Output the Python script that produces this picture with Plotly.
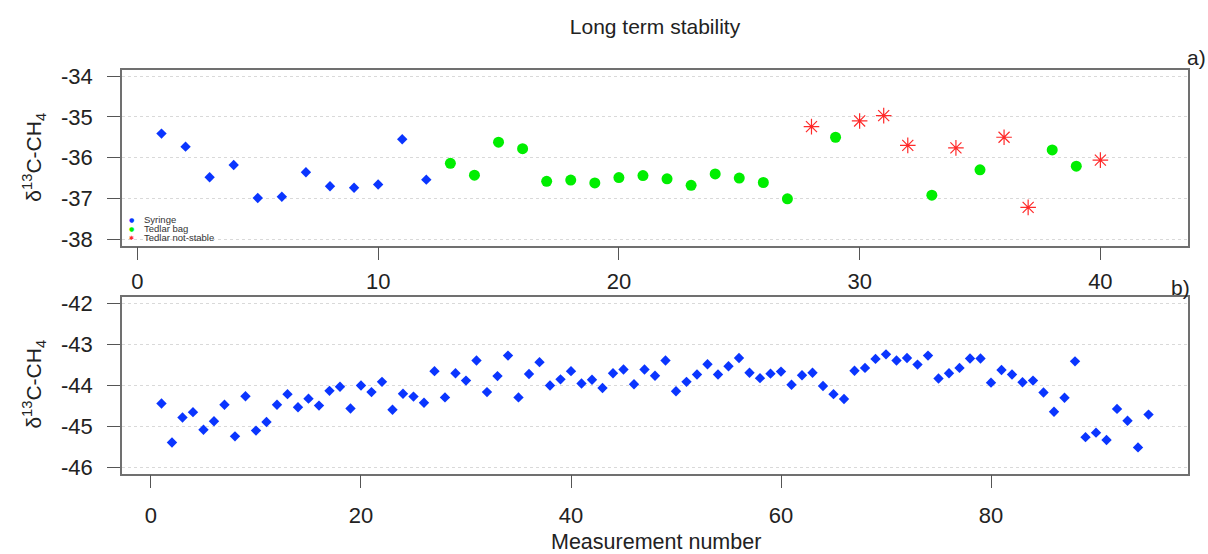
import plotly.graph_objects as go

# ---------------- data ----------------
series_names = ["Syringe", "Tedlar bag", "Tedlar not-stable"]
series_colors = ["#0a35ff", "#00ee00", "#ff2a2a"]

syringe_x = [1, 2, 3, 4, 5, 6, 7, 8, 9, 10, 11, 12]
syringe_y = [-35.41, -35.73, -36.48, -36.18, -36.99, -36.96, -36.36, -36.70,
             -36.74, -36.66, -35.55, -36.54]

tedlar_x = [13, 14, 15, 16, 17, 18, 19, 20, 21, 22, 23, 24, 25, 26, 27,
            29, 33, 35, 38, 39]
tedlar_y = [-36.14, -36.43, -35.62, -35.78, -36.58, -36.55, -36.62, -36.49,
            -36.44, -36.52, -36.68, -36.40, -36.50, -36.61, -37.01,
            -35.50, -36.92, -36.30, -35.81, -36.21]

unstable_x = [28, 30, 31, 32, 34, 36, 37, 40]
unstable_y = [-35.24, -35.10, -34.97, -35.70, -35.76, -35.50, -37.22, -36.06]

bottom_x = list(range(1, 96))
bottom_y = [-44.45, -45.40, -44.79, -44.66, -45.09, -44.88, -44.48, -45.25, -44.27, -45.11,
            -44.90, -44.48, -44.22, -44.54, -44.33, -44.50, -44.14, -44.04, -44.57, -44.01,
            -44.17, -43.92, -44.60, -44.21, -44.28, -44.43, -43.66, -44.30, -43.71, -43.89,
            -43.40, -44.17, -43.78, -43.28, -44.30, -43.73, -43.44, -44.01, -43.86, -43.66,
            -43.96, -43.87, -44.07, -43.71, -43.62, -43.98, -43.62, -43.77, -43.40, -44.15,
            -43.92, -43.74, -43.49, -43.74, -43.54, -43.34, -43.70, -43.83, -43.72, -43.67,
            -43.99, -43.76, -43.70, -44.02, -44.22, -44.34, -43.65, -43.58, -43.36, -43.25,
            -43.40, -43.34, -43.50, -43.28, -43.84, -43.71, -43.58, -43.35, -43.35, -43.94,
            -43.63, -43.74, -43.93, -43.89, -44.18, -44.65, -44.31, -43.42, -45.27, -45.16,
            -45.34, -44.58, -44.87, -45.52, -44.72]

top_xticks = [0, 10, 20, 30, 40]
top_yticks = [-38, -37, -36, -35, -34]
bottom_xticks = [0, 20, 40, 60, 80]
bottom_yticks = [-46, -45, -44, -43, -42]

# ---------------- figure ----------------
W, H = 1208, 554
FONT = "Liberation Sans, Arial, sans-serif"

fig = go.Figure()
fig.add_trace(go.Scatter(x=syringe_x, y=syringe_y, mode="markers", name=series_names[0],
                         marker=dict(symbol="diamond", size=8, color=series_colors[0]),
                         xaxis="x", yaxis="y"))
fig.add_trace(go.Scatter(x=tedlar_x, y=tedlar_y, mode="markers", name=series_names[1],
                         marker=dict(symbol="circle", size=11, color=series_colors[1]),
                         xaxis="x", yaxis="y"))
fig.add_trace(go.Scatter(x=unstable_x, y=unstable_y, mode="markers", name=series_names[2],
                         marker=dict(symbol="asterisk-open", size=13, color=series_colors[2],
                                     line=dict(color=series_colors[2], width=1.2)),
                         xaxis="x", yaxis="y"))
fig.add_trace(go.Scatter(x=bottom_x, y=bottom_y, mode="markers", name="b",
                         marker=dict(symbol="diamond", size=8, color=series_colors[0]),
                         xaxis="x2", yaxis="y2"))


def px_x(p):
    return p / W


def px_y(p):
    return 1 - p / H


def labels(vals):
    return [str(v) for v in vals]


axis_common = dict(
    showline=True, mirror=True, linecolor="#707070", linewidth=1.5,
    ticks="outside", ticklen=13, tickwidth=1, tickcolor="#555555",
    tickfont=dict(family=FONT, size=22, color="#222222"),
    zeroline=False,
)

grid = dict(showgrid=True, gridcolor="#d9d9d9", griddash="dot", gridwidth=1.2)

fig.update_layout(
    width=W, height=H,
    margin=dict(l=0, r=0, t=0, b=0),
    paper_bgcolor="white", plot_bgcolor="white",
    showlegend=False,
    xaxis=dict(domain=[px_x(122), px_x(1188)], range=[-0.64, 43.64], anchor="y",
               tickvals=top_xticks, ticktext=labels(top_xticks), showgrid=False,
               ticklabelstandoff=2, **axis_common),
    yaxis=dict(domain=[px_y(245), px_y(65)], range=[-38.16, -33.84], anchor="x",
               tickvals=top_yticks, ticktext=labels(top_yticks),
               ticklabelstandoff=10, **grid, **axis_common),
    xaxis2=dict(domain=[px_x(122), px_x(1188)], range=[-2.76, 98.76], anchor="y2",
                tickvals=bottom_xticks, ticktext=labels(bottom_xticks), showgrid=False,
                ticklabelstandoff=8, **axis_common),
    yaxis2=dict(domain=[px_y(478), px_y(297)], range=[-46.16, -41.84], anchor="x2",
                tickvals=bottom_yticks, ticktext=labels(bottom_yticks),
                ticklabelstandoff=10, **grid, **axis_common),
    title=dict(text="Long term stability", x=px_x(655), xanchor="center",
               y=px_y(27), yanchor="middle",
               font=dict(family=FONT, size=21, color="#222222")),
)

annotations = []
ylab = "δ<sup>13</sup>C-CH<sub>4</sub>"
for cy in (155, 387):
    annotations.append(dict(text=ylab, x=px_x(34), y=px_y(cy), xref="paper", yref="paper",
                            textangle=-90, showarrow=False, xanchor="center", yanchor="middle",
                            font=dict(family=FONT, size=21, color="#222222")))
annotations.append(dict(text="Measurement number", x=px_x(656), y=px_y(548), xref="paper",
                        yref="paper", showarrow=False, xanchor="center", yanchor="middle",
                        font=dict(family=FONT, size=21.5, color="#222222")))
annotations.append(dict(text="a)", x=px_x(1208), y=px_y(53), xref="paper", yref="paper",
                        showarrow=False, xanchor="right", yanchor="middle",
                        font=dict(family=FONT, size=21, color="#222222")))
annotations.append(dict(text="b)", x=px_x(1192), y=px_y(288), xref="paper", yref="paper",
                        showarrow=False, xanchor="right", yanchor="middle",
                        font=dict(family=FONT, size=21, color="#222222")))

# legend drawn as text rows (tight spacing as in the original)
legend_glyphs = ["●", "●", "✱"]
for i, (name, col, g) in enumerate(zip(series_names, series_colors, legend_glyphs)):
    cy = 218 + i * 9.5
    annotations.append(dict(text=g, x=px_x(131), y=px_y(cy), xref="paper", yref="paper",
                            showarrow=False, xanchor="center", yanchor="middle",
                            font=dict(family="DejaVu Sans", size=6, color=col)))
    annotations.append(dict(text=name, x=px_x(142), y=px_y(cy), xref="paper", yref="paper",
                            showarrow=False, xanchor="left", yanchor="middle",
                            font=dict(family=FONT, size=9.5, color="#333333")))

fig.update_layout(annotations=annotations)

fig.write_html("out.html")
